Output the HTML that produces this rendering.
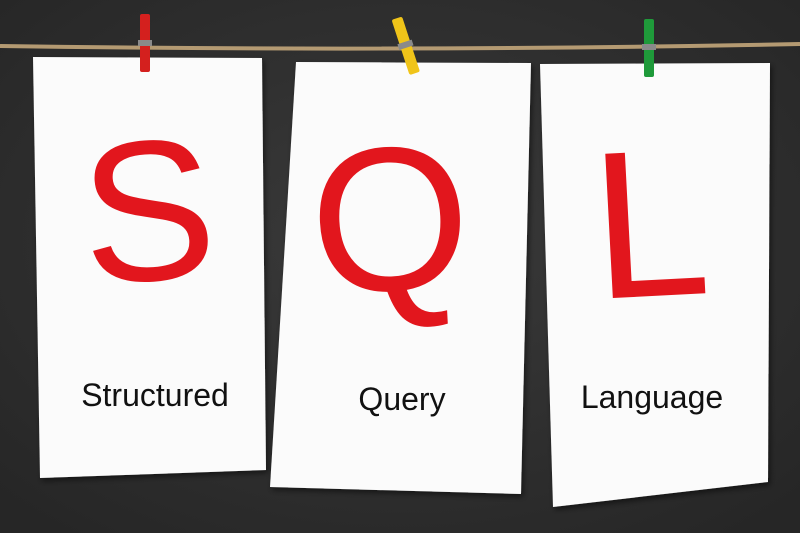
<!DOCTYPE html>
<html>
<head>
<meta charset="utf-8">
<style>
  html,body{margin:0;padding:0;background:#2f2f2f;}
  svg{display:block;}
  .big{font-family:"Liberation Sans",sans-serif;font-weight:normal;fill:#e2161d;}
  .word{font-family:"Liberation Sans",sans-serif;fill:#111;}
</style>
</head>
<body>
<svg width="800" height="533" viewBox="0 0 800 533">
  <defs>
    <radialGradient id="bg" cx="50%" cy="45%" r="70%">
      <stop offset="0" stop-color="#3a3a3a"/>
      <stop offset="1" stop-color="#262626"/>
    </radialGradient>
    <filter id="sh" x="-10%" y="-10%" width="120%" height="120%">
      <feDropShadow dx="2" dy="3" stdDeviation="3" flood-color="#000" flood-opacity="0.5"/>
    </filter>
  </defs>
  <rect width="800" height="533" fill="url(#bg)"/>
  <path d="M0,46 Q400,52 800,44" stroke="#b49a72" stroke-width="4" fill="none"/>

  <g filter="url(#sh)">
    <polygon points="33,57 262,58 266,470 40,478" fill="#fbfbfb"/>
    <polygon points="296,62 531,63 521,494 270,487" fill="#fbfbfb"/>
    <polygon points="540,64 770,63 768,482 553,507" fill="#fbfbfb"/>
  </g>

  <g>
    <rect x="140" y="14" width="10" height="58" rx="2" fill="#d4201e"/>
    <rect x="138" y="40" width="14" height="6" fill="#8a8a8a"/>
  </g>
  <g transform="rotate(-18 405 45)">
    <rect x="400" y="17" width="11" height="58" rx="2" fill="#f0c419"/>
    <rect x="398" y="42" width="15" height="6" fill="#8a8a8a"/>
  </g>
  <g>
    <rect x="644" y="19" width="10" height="58" rx="2" fill="#1f9a3a"/>
    <rect x="642" y="44" width="14" height="6" fill="#8a8a8a"/>
  </g>

  <text class="big" x="148" y="280" font-size="200" text-anchor="middle" transform="rotate(-4 148 210)">S</text>
  <text class="big" x="390" y="290" font-size="205" text-anchor="middle" transform="rotate(-3 390 220)">Q</text>
  <text class="big" x="650" y="296" font-size="210" text-anchor="middle" transform="rotate(-3 650 220)">L</text>

  <text class="word" x="155" y="406" font-size="32" text-anchor="middle">Structured</text>
  <text class="word" x="402" y="410" font-size="32" text-anchor="middle">Query</text>
  <text class="word" x="652" y="408" font-size="32" text-anchor="middle">Language</text>
</svg>
</body>
</html>
